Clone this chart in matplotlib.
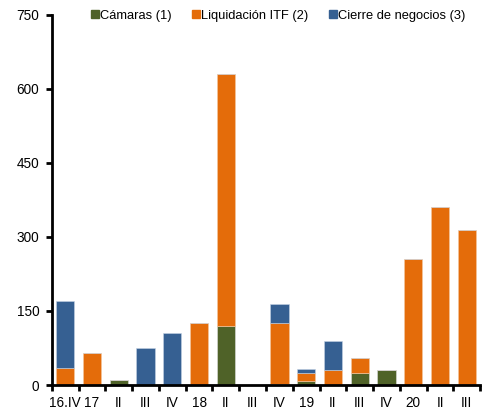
import matplotlib
matplotlib.use("Agg")
import matplotlib.pyplot as plt
import numpy as np
from matplotlib.lines import Line2D

categories = ["16.IV", "17", "II", "III", "IV", "18", "II", "III", "IV", "19", "II", "III", "IV", "20", "II", "III"]
camaras = [0, 0, 10, 0, 0, 0, 120, 0, 2, 8, 0, 25, 30, 0, 0, 0]
liquidacion = [35, 65, 0, 0, 0, 125, 510, 0, 123, 16, 30, 30, 0, 255, 360, 315]
cierre = [135, 0, 0, 75, 105, 0, 0, 0, 40, 9, 60, 0, 0, 0, 0, 0]
yticks = [0, 150, 300, 450, 600, 750]

c_green = "#4F6228"
c_orange = "#E46C0A"
c_blue = "#366092"

plt.rcParams['font.family'] = ['Liberation Sans', 'DejaVu Sans']
fig = plt.figure(figsize=(4.94, 4.12), dpi=100)
ax = fig.add_axes([0.105, 0.0655, 0.867, 0.8985])

x = np.arange(len(categories))
w = 0.68
camaras = np.array(camaras, float)
liquidacion = np.array(liquidacion, float)
cierre = np.array(cierre, float)
ax.bar(x, camaras, w, color=c_green, edgecolor="#dddddd", linewidth=0.4)
ax.bar(x, liquidacion, w, bottom=camaras, color=c_orange, edgecolor="#f4c7a0", linewidth=0.4)
ax.bar(x, cierre, w, bottom=camaras + liquidacion, color=c_blue, edgecolor="#c5d2e3", linewidth=0.4)

ax.set_xlim(-0.5, len(categories) - 0.5)
ax.set_ylim(0, 750)
ax.set_yticks(yticks)
ax.set_yticklabels([str(v) for v in yticks], fontsize=9.8)
ax.set_xticks(x)
ax.set_xticklabels(categories, fontsize=9.8)
ax.set_xticks(np.arange(-0.5, len(categories), 1.0), minor=True)
ax.tick_params(axis='x', which='major', length=0, pad=8)
ax.tick_params(axis='x', which='minor', length=4, width=2, direction='out')
ax.tick_params(axis='y', which='major', length=4, width=2, direction='out', pad=5)

for s in ["top", "right"]:
    ax.spines[s].set_visible(False)
for s in ["left", "bottom"]:
    ax.spines[s].set_linewidth(2)

handles = [Line2D([], [], marker='s', linestyle='', color=c, markersize=5.5) for c in (c_green, c_orange, c_blue)]
labels = ["Cámaras (1)", "Liquidación ITF (2)", "Cierre de negocios (3)"]
fig.legend(handles, labels, loc='upper center', bbox_to_anchor=(0.562, 0.998), ncol=3, frameon=False,
           fontsize=9.3, handletextpad=0.0, columnspacing=1.5, handlelength=0.8, borderaxespad=0.3)

fig.savefig("out.png", dpi=100)
